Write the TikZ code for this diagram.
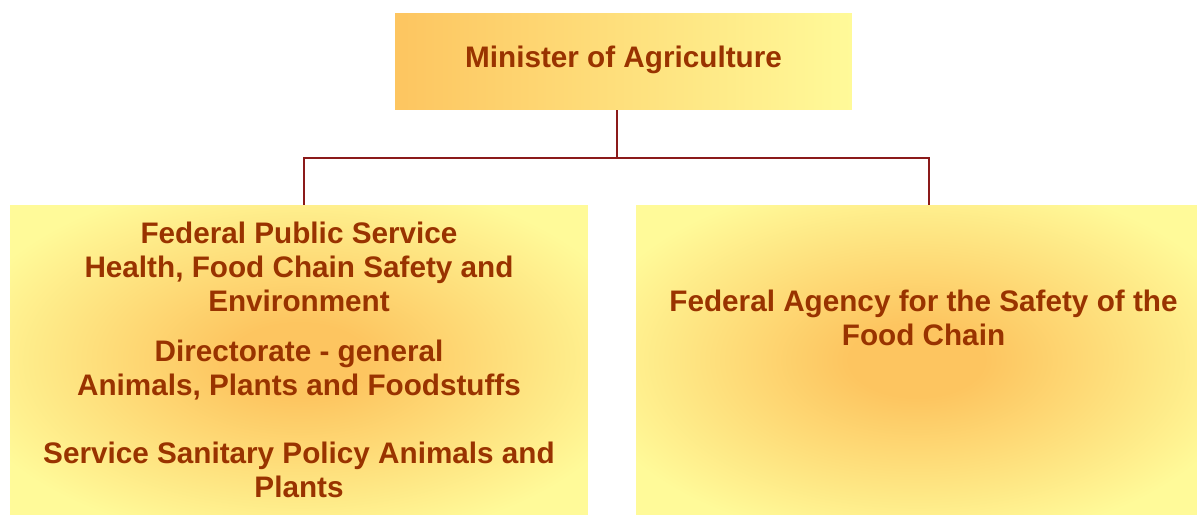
\documentclass[tikz,border=0pt]{standalone}
\usepackage{fontspec}
\setmainfont{Liberation Sans}
\usepackage{xcolor}
\usepackage{tikz}
\usetikzlibrary{calc,positioning}
\usetikzlibrary{shadings}

\definecolor{ministerbrown}{HTML}{993300}
\definecolor{linkred}{HTML}{8B1A1A}
\definecolor{paleyellow}{HTML}{FFFA99}
\definecolor{deeporange}{HTML}{FDC560}

\pgfdeclareradialshading{panelglow}{\pgfpoint{0bp}{0bp}}{color(0bp)=(deeporange); color(6bp)=(deeporange); color(30bp)=(paleyellow); color(50bp)=(paleyellow)}

\tikzset{
	boxtext/.style={text=ministerbrown,align=center,font=\bfseries\fontsize{16.9}{19.4}\selectfont},
	topbox/.style={boxtext,rectangle,left color=deeporange,right color=paleyellow,minimum width=9.14cm,minimum height=1.94cm,inner sep=0pt},
	panel/.style={rectangle,shading=panelglow,minimum width=#1,minimum height=6.2cm,inner sep=0pt},
	link/.style={draw=linkred,line width=1.2pt}
}

\begin{document}
\begin{tikzpicture}[x=0.02cm,y=-0.02cm]
	\useasboundingbox (0,0) rectangle (1197,516);
	\node[topbox] (minister) at (623.5,61.5) {\raisebox{5pt}{Minister of Agriculture}};
	\node[panel=11.56cm] (fps) at (299,360) {};
	\node[boxtext] (fpstext) at (fps.center) {Federal Public Service\\Health, Food Chain Safety and\\Environment\\[9pt]Directorate - general\\Animals, Plants and Foodstuffs\\[19.4pt]Service Sanitary Policy Animals and\\Plants};
	\node[panel=11.22cm] (fsa) at (916.5,360) {};
	\node[boxtext] (fsatext) at ($(fsa.center)+(7,-42)$) {Federal Agency for the Safety of the\\Food Chain};
	% tree lines
	\coordinate (bus) at ($(minister.south)+(-6.5,48)$);
	\draw[link] ($(minister.south)+(-6.5,0)$) -- (bus);
	\draw[link] (bus) -| ($(fps.north)+(5,0)$);
	\draw[link] (bus) -| ($(fsa.north)+(12.5,0)$);
\end{tikzpicture}
\end{document}
